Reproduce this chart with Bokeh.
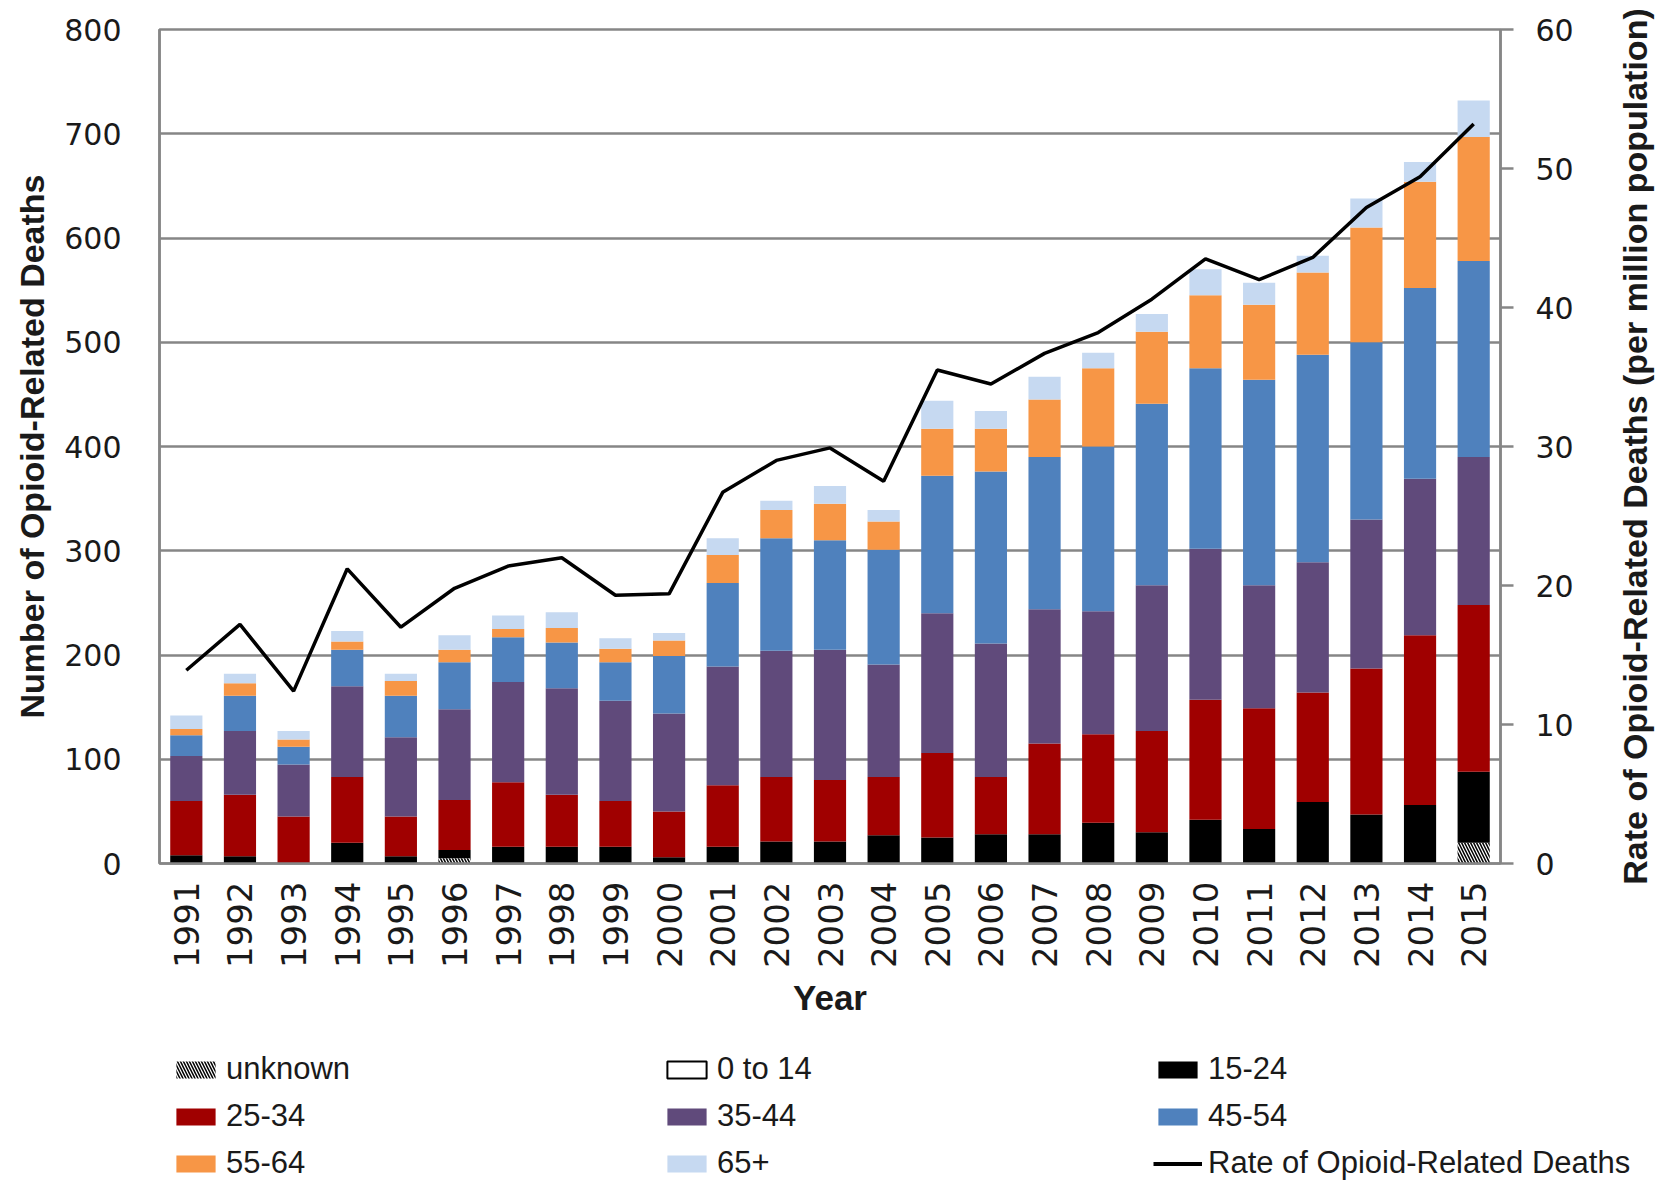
import math
from bokeh.plotting import figure
from bokeh.layouts import row, column
from bokeh.models import (ColumnDataSource, FactorRange, Range1d, LinearAxis, Legend,
                          LegendItem, SingleIntervalTicker, Title)
from bokeh.embed import file_html
from bokeh.resources import INLINE

# ---------------- data ----------------
years = ["1991", "1992", "1993", "1994", "1995", "1996", "1997", "1998", "1999", "2000",
         "2001", "2002", "2003", "2004", "2005", "2006", "2007", "2008", "2009", "2010",
         "2011", "2012", "2013", "2014", "2015"]
unknown = [0, 0, 0, 0, 0, 5, 0, 0, 0, 0, 0, 0, 0, 0, 0, 0, 0, 0, 0, 0, 0, 0, 0, 0, 20]
age_0_14 = [0, 0, 0, 0, 0, 0, 0, 0, 0, 0, 0, 0, 0, 0, 0, 0, 0, 0, 0, 0, 0, 0, 0, 0, 0]
age_15_24 = [8, 7, 0, 20, 7, 8, 16, 16, 16, 6, 16, 21, 21, 27, 25, 28, 28, 39, 30, 42,
             33, 59, 47, 56, 68]
age_25_34 = [52, 59, 45, 63, 38, 48, 62, 50, 44, 44, 59, 62, 59, 56, 81, 55, 87, 85, 97, 115,
             116, 105, 140, 163, 160]
age_35_44 = [43, 61, 50, 87, 76, 87, 96, 102, 96, 94, 114, 121, 125, 108, 134, 128, 129, 118,
             140, 145, 118, 125, 143, 150, 142]
age_45_54 = [20, 34, 17, 35, 40, 45, 43, 44, 37, 55, 80, 108, 105, 110, 132, 165, 146, 158,
             174, 173, 197, 199, 170, 183, 188]
age_55_64 = [6, 12, 7, 8, 14, 12, 8, 14, 13, 15, 27, 27, 35, 27, 45, 41, 55, 75, 69, 70,
             72, 79, 110, 102, 119]
age_65_plus = [13, 9, 8, 10, 7, 14, 13, 15, 10, 7, 16, 9, 17, 11, 27, 17, 22, 15, 17, 25,
               21, 16, 28, 19, 35]
rate = [13.9, 17.2, 12.4, 21.2, 17.0, 19.8, 21.4, 22.0, 19.3, 19.4, 26.7, 29.0, 29.9, 27.5,
        35.5, 34.5, 36.7, 38.2, 40.6, 43.5, 42.0, 43.6, 47.2, 49.4, 53.2]

series_labels = ["unknown", "0 to 14", "15-24", "25-34", "35-44", "45-54", "55-64", "65+"]
rate_label = "Rate of Opioid-Related Deaths"
stackers = ["unknown", "a0_14", "a15_24", "a25_34", "a35_44", "a45_54", "a55_64", "a65p"]
colors = ["white", "white", "#000000", "#A00000", "#604A7B", "#4F81BD", "#F79646", "#C6D9F1"]
hatches = ["\\", " ", " ", " ", " ", " ", " ", " "]
key_lines = [None, "black", None, None, None, None, None, None]

src = ColumnDataSource(dict(year=years, unknown=unknown, a0_14=age_0_14, a15_24=age_15_24,
                            a25_34=age_25_34, a35_44=age_35_44, a45_54=age_45_54,
                            a55_64=age_55_64, a65p=age_65_plus, rate=rate))

GRAY = "#868686"
TXT = "#1a1a1a"
H_MAIN = 1020
TOP = 29
BOTTOM = 156
W_MAIN = 1613

p = figure(x_range=FactorRange(*years), y_range=Range1d(0, 800),
           width=W_MAIN, height=H_MAIN, output_backend="svg", toolbar_location=None,
           min_border_left=159, min_border_right=W_MAIN - 159 - 1341, min_border_top=TOP,
           min_border_bottom=BOTTOM)
p.outline_line_color = GRAY
p.outline_line_width = 2.5
p.xgrid.visible = False
p.ygrid.grid_line_color = GRAY
p.ygrid.grid_line_width = 2.5

# left axis
ya = p.yaxis[0]
ya.ticker = SingleIntervalTicker(interval=100, num_minor_ticks=0)
ya.axis_line_color = GRAY
ya.axis_line_width = 2.5
ya.major_tick_out = 0
ya.major_tick_in = 0
ya.minor_tick_out = 0
ya.minor_tick_in = 0
ya.major_label_standoff = 38
ya.major_label_text_font = "DejaVu Sans"
ya.major_label_text_font_size = "30px"
ya.major_label_text_color = TXT
ya.axis_label = "Number of Opioid-Related Deaths"
ya.axis_label_text_font = "Liberation Sans"
ya.axis_label_text_font_style = "bold"
ya.axis_label_text_font_size = "34px"
ya.axis_label_text_color = TXT
ya.axis_label_standoff = 10

# x axis
xa = p.xaxis[0]
xa.axis_line_color = GRAY
xa.axis_line_width = 2.5
xa.major_tick_out = 0
xa.major_tick_in = 0
xa.major_label_orientation = math.pi / 2
xa.major_label_standoff = 18
xa.major_label_text_font = "DejaVu Sans"
xa.major_label_text_font_size = "34px"
xa.major_label_text_color = TXT
xa.axis_label = "Year"
xa.axis_label_text_font = "Liberation Sans"
xa.axis_label_text_font_style = "bold"
xa.axis_label_text_font_size = "35px"
xa.axis_label_text_color = TXT
xa.axis_label_standoff = 7

# right axis (rate)
p.extra_y_ranges = {"rate": Range1d(0, 60)}
ra = LinearAxis(y_range_name="rate", ticker=SingleIntervalTicker(interval=10, num_minor_ticks=0))
ra.axis_line_color = GRAY
ra.axis_line_width = 2.5
ra.major_tick_line_color = GRAY
ra.major_tick_line_width = 2.5
ra.major_tick_out = 13
ra.major_tick_in = 0
ra.minor_tick_out = 0
ra.minor_tick_in = 0
ra.major_label_standoff = 22
ra.major_label_text_font = "DejaVu Sans"
ra.major_label_text_font_size = "30px"
ra.major_label_text_color = TXT
p.add_layout(ra, "right")

# stacked bars
bars = p.vbar_stack(stackers, x="year", width=0.6, source=src,
                    fill_color=colors, line_color=None,
                    hatch_pattern=hatches, hatch_color="black", hatch_scale=6, hatch_weight=1.5)

# rate line
rline = p.line(x="year", y="rate", source=src, y_range_name="rate",
               line_color="black", line_width=3.5)

# ---- right-hand axis title (reads bottom-to-top) in a narrow companion figure ----
p2 = figure(width=1658 - W_MAIN, height=H_MAIN, output_backend="svg", toolbar_location=None,
            x_axis_location=None, y_axis_location=None,
            min_border_left=0, min_border_right=0, min_border_top=TOP,
            min_border_bottom=BOTTOM)
p2.outline_line_color = None
p2.grid.visible = False
rt = Title(text="Rate of Opioid-Related Deaths (per million population)", align="center",
           text_font="Liberation Sans", text_font_style="bold", text_font_size="34px",
           text_color=TXT, standoff=0, offset=0)
p2.add_layout(rt, "left")

# ---- legend strip below the chart (keys use the same styles; their glyphs stay hidden) ----
p3 = figure(width=1658, height=1181 - H_MAIN, output_backend="svg", toolbar_location=None,
            x_range=FactorRange(*years), y_range=Range1d(-2, -1),
            x_axis_location=None, y_axis_location=None, min_border=0)
p3.outline_line_color = None
p3.grid.visible = False
keys_r = p3.vbar_stack(stackers, x="year", width=0.6, source=src,
                       fill_color=colors, line_color=key_lines, line_width=2,
                       hatch_pattern=hatches, hatch_color="black", hatch_scale=6,
                       hatch_weight=1.5)
key_line = p3.line(x="year", y="rate", source=src, line_color="black", line_width=4)
for r in keys_r:
    r.visible = False
key_line.visible = False

items = [LegendItem(label=lab, renderers=[r]) for lab, r in zip(series_labels, keys_r)]
items.append(LegendItem(label=rate_label, renderers=[key_line]))

legend = Legend(items=items, location=(171, 0), orientation="horizontal", ncols=3,
                glyph_width=49, glyph_height=21, label_standoff=6, label_width=425,
                label_height=30, spacing=11, padding=0, margin=0, border_line_alpha=0,
                background_fill_alpha=0, label_text_font="Liberation Sans",
                label_text_font_size="31px", label_text_color=TXT,
                inactive_fill_alpha=0)
p3.add_layout(legend)

layout = column(row(p, p2), p3)
open("out.html", "w").write(file_html(layout, INLINE))
